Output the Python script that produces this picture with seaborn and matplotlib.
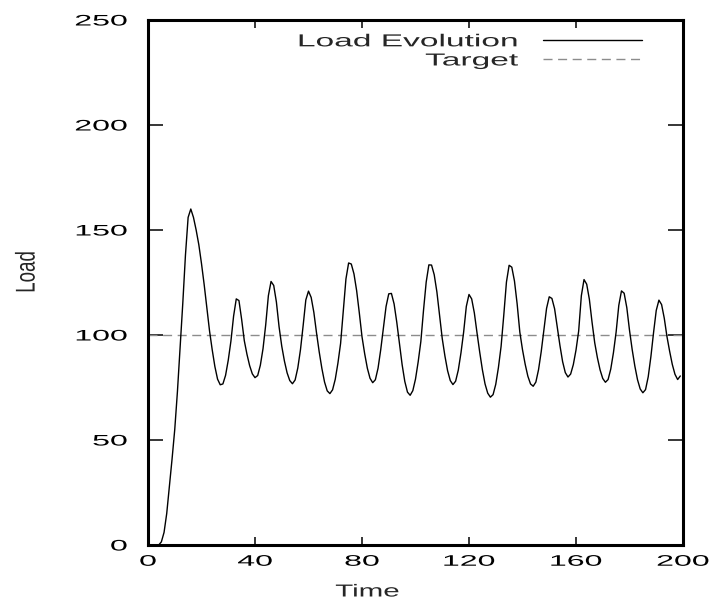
import matplotlib
matplotlib.use("Agg")
import pandas as pd
import matplotlib.pyplot as plt
import seaborn as sns
from matplotlib import patheffects as pe
from matplotlib.transforms import Affine2D

time = list(range(200))
load = [
    0, 0, 0, 0, 0, 1.5, 6, 15, 28, 41,
    55, 73, 94, 115, 138, 156, 160, 156, 150, 143,
    134, 124, 113, 102, 93, 85, 79, 76.3, 76.7, 80.8,
    88.0, 97.1, 109.0, 117.2, 116.4, 107.5, 97.3, 90.8, 85.4, 81.5,
    79.7, 80.7, 85.6, 93.5, 104.8, 118.7, 125.5, 123.6, 115.7, 103.9,
    94.7, 87.6, 82.0, 78.3, 76.8, 78.6, 84.3, 93.0, 104.5, 116.7,
    120.9, 117.9, 110.8, 101.0, 92.0, 84.1, 77.6, 73.4, 72.1, 73.9,
    78.9, 86.6, 96.0, 111.1, 126.7, 134.3, 133.8, 129.1, 121.1, 110.5,
    99.2, 91.1, 84.2, 79.4, 77.3, 78.7, 84.2, 93.0, 103.4, 113.6,
    119.6, 119.8, 114.8, 106.1, 95.8, 85.9, 77.9, 72.8, 71.3, 73.5,
    79.0, 87.2, 96.9, 111.8, 125.2, 133.4, 133.3, 128.7, 120.5, 109.6,
    98.3, 90.0, 83.0, 78.3, 76.4, 78.0, 83.3, 91.5, 101.4, 113.6,
    119.3, 117.2, 110.5, 101.0, 91.9, 83.5, 76.7, 72.3, 70.4, 71.6,
    76.5, 84.5, 94.6, 109.4, 125.2, 133.2, 132.3, 125.7, 114.8, 101.4,
    93.0, 86.1, 80.4, 76.7, 75.6, 77.6, 83.5, 92.1, 102.3, 112.7,
    118.2, 117.4, 112.5, 103.7, 95.0, 87.3, 82.1, 80.0, 81.4, 85.9,
    92.8, 101.9, 118.7, 126.4, 124.2, 117.0, 106.1, 96.3, 89.2, 83.4,
    79.3, 77.5, 78.8, 83.8, 91.6, 101.4, 114.1, 121.0, 119.9, 113.0,
    102.3, 93.1, 85.2, 78.7, 74.3, 72.5, 74.0, 80.1, 89.7, 101.2,
    111.7, 116.6, 114.5, 108.0, 99.3, 92.3, 86.0, 81.3, 78.8, 80.5,
]
target_time = [0, 200]
target_load = [100, 100]

x_ticks = [0, 40, 80, 120, 160, 200]
y_ticks = [0, 50, 100, 150, 200, 250]


class Wide(pe.AbstractPathEffect):
    # the original gnuplot output is stretched sideways, widen glyphs around a fixed point
    def __init__(self, sx=1.0, anchor=0.5, sy=1.0):
        super().__init__()
        self.sx = sx
        self.sy = sy
        self.anchor = anchor

    def draw_path(self, renderer, gc, tpath, affine, rgbFace=None):
        ext = tpath.get_extents()
        x0 = ext.x0 + self.anchor * ext.width
        y0 = ext.y0 + 0.5 * ext.height
        stretch = Affine2D().translate(-x0, -y0).scale(self.sx, self.sy).translate(x0, y0)
        renderer.draw_path(gc, tpath, stretch + affine, rgbFace)


sns.set_theme(style="white")
plt.rcParams["font.family"] = ["Liberation Sans", "DejaVu Sans"]

df = pd.DataFrame({"Time": time, "Load": load})

fig = plt.figure(figsize=(7.16, 6.08), dpi=100)
ax = fig.add_axes([0.2067, 0.1036, 0.7472, 0.8635])

sns.lineplot(x=target_time, y=target_load, ax=ax, color="#8c8c8c",
             linewidth=1.0, linestyle=(0, (6.5, 4)), label="Target")
sns.lineplot(data=df, x="Time", y="Load", ax=ax, color="black",
             linewidth=1.0, label="Load Evolution")

ax.set_xlim(0, 200)
ax.set_ylim(0, 250)
ax.set_xticks(x_ticks)
ax.set_yticks(y_ticks)

for s in ax.spines.values():
    s.set_linewidth(2.2)
    s.set_color("black")

ax.tick_params(axis="both", direction="in", top=True, right=True,
               bottom=True, left=True, width=1.1, colors="black", labelsize=11)
ax.tick_params(axis="x", length=5.8, pad=7)
ax.tick_params(axis="y", length=10.8, pad=15)

for lab in ax.get_xticklabels():
    lab.set_path_effects([Wide(2.1, 0.5)])
for lab in ax.get_yticklabels():
    lab.set_path_effects([Wide(2.1, 1.0)])

ax.set_xlabel("Time", fontsize=12.5, va="center")
ax.xaxis.set_label_coords(0.41, -0.0895)
ax.xaxis.label.set_path_effects([Wide(1.7, 0.5)])
ax.set_ylabel("Load", fontsize=13.5, va="center")
ax.yaxis.set_label_coords(-0.226, 0.52)
ax.yaxis.label.set_path_effects([Wide(1.0, 0.5, sy=1.45)])

# legend entries in gnuplot order: load first, then target
h, l = ax.get_legend_handles_labels()
order = [l.index("Load Evolution"), l.index("Target")]
leg = ax.legend([h[i] for i in order], [l[i] for i in order],
                loc="upper right", bbox_to_anchor=(0.9234, 0.973),
                borderaxespad=0, borderpad=0, frameon=False, markerfirst=False,
                handlelength=5.7, handletextpad=1.44, labelspacing=0.23,
                fontsize=12.5)
for t in leg.get_texts():
    t.set_path_effects([Wide(1.93, 1.0)])

fig.savefig("out.png", dpi=100)
